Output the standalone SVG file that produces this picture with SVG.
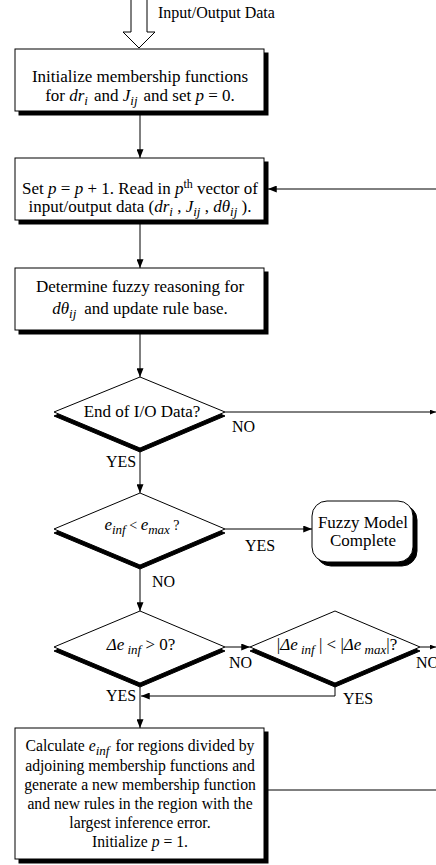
<svg xmlns="http://www.w3.org/2000/svg" width="436" height="865" viewBox="0 0 436 865">
<defs>
<style>
text{font-family:"Liberation Serif","Times New Roman",serif;font-size:17px;fill:#000}
.lbl{font-size:16px}
.sm{font-size:15.7px}
.c{text-anchor:middle}
.i{font-style:italic}
.sub{font-size:13px;font-style:italic}
.sup{font-size:12px}
.box{fill:#fff;stroke:#000;stroke-width:1}
.sh{fill:#000;stroke:#000;stroke-width:1}
.ln{fill:none;stroke:#000;stroke-width:1}
</style>
<marker id="ah" viewBox="0 0 10 8" refX="10" refY="4" markerWidth="9" markerHeight="7" markerUnits="userSpaceOnUse" orient="auto">
<path d="M0,0 L10,4 L0,8 Z" fill="#000"/>
</marker>
<marker id="ahs" viewBox="0 0 10 8" refX="10" refY="4" markerWidth="6" markerHeight="5" markerUnits="userSpaceOnUse" orient="auto">
<path d="M0,0 L10,4 L0,8 Z" fill="#000"/>
</marker>
</defs>
<rect width="436" height="865" fill="#fff"/>

<g id="input">
<path d="M131,0 V32 H123 L139,48 L155,32 H147 V0" fill="#fff" stroke="#000" stroke-width="1"/>
<text x="158" y="18" class="lbl">Input/Output Data</text>
</g>

<g id="connectors">
<line class="ln" x1="140" y1="115" x2="140" y2="158" marker-end="url(#ah)"/>
<line class="ln" x1="436" y1="189" x2="268" y2="189" marker-end="url(#ah)"/>
<line class="ln" x1="140" y1="224" x2="140" y2="268" marker-end="url(#ah)"/>
<line class="ln" x1="140" y1="334" x2="140" y2="377" marker-end="url(#ah)"/>
<line class="ln" x1="225" y1="412" x2="436" y2="412" marker-end="url(#ahs)"/>
<line class="ln" x1="140" y1="451" x2="140" y2="493" marker-end="url(#ah)"/>
<line class="ln" x1="225" y1="529" x2="312" y2="529" marker-end="url(#ah)"/>
<line class="ln" x1="140" y1="569" x2="140" y2="611" marker-end="url(#ah)"/>
<line class="ln" x1="225" y1="647" x2="250" y2="647" marker-end="url(#ah)"/>
<line class="ln" x1="420" y1="647" x2="436" y2="647" marker-end="url(#ahs)"/>
<polyline class="ln" points="335,686 335,696 141,696" marker-end="url(#ah)"/>
<line class="ln" x1="140" y1="687" x2="140" y2="728" marker-end="url(#ah)"/>
<line class="ln" x1="268" y1="790" x2="436" y2="790"/>
</g>

<g id="init">
<rect class="sh" x="19" y="53" width="249" height="62"/>
<rect class="box" x="15" y="49" width="249" height="62"/>
<text class="c" x="140" y="82">Initialize membership functions</text>
<text class="c" x="140" y="101">for <tspan class="i">dr</tspan><tspan class="sub" dy="4">i</tspan><tspan dy="-4" dx="6">and </tspan><tspan class="i">J</tspan><tspan class="sub" dy="4">ij</tspan><tspan dy="-4" dx="6">and set </tspan><tspan class="i">p</tspan> = 0.</text>
</g>

<g id="read">
<rect class="sh" x="19" y="162" width="249" height="62"/>
<rect class="box" x="15" y="158" width="249" height="62"/>
<text class="c" x="140" y="194">Set <tspan class="i">p</tspan> = <tspan class="i">p</tspan> + 1. Read in <tspan class="i">p</tspan><tspan class="sup" dy="-6">th</tspan><tspan dy="6"> vector of</tspan></text>
<text class="c" x="140" y="212">input/output data (<tspan class="i">dr</tspan><tspan class="sub" dy="4">i</tspan><tspan dy="-4"> , </tspan><tspan class="i">J</tspan><tspan class="sub" dy="4">ij</tspan><tspan dy="-4"> , </tspan><tspan class="i">dθ</tspan><tspan class="sub" dy="4">ij</tspan><tspan dy="-4"> ).</tspan></text>
</g>

<g id="reason">
<rect class="sh" x="19" y="272" width="249" height="62"/>
<rect class="box" x="15" y="268" width="249" height="62"/>
<text class="c" x="140" y="292">Determine fuzzy reasoning for</text>
<text class="c" x="140" y="314"><tspan class="i">dθ</tspan><tspan class="sub" dy="4">ij</tspan><tspan dy="-4" dx="8">and update rule base.</tspan></text>
</g>

<g id="end-data">
<polygon class="sh" points="140,381 225,416 140,452 54,416"/>
<polygon class="box" points="140,377 225,412 140,448 54,412"/>
<text class="c" x="142" y="417">End of I/O Data?</text>
<text class="lbl" x="232" y="432">NO</text>
<text class="lbl" x="106" y="467">YES</text>
</g>

<g id="err-check">
<polygon class="sh" points="140,497 225,533 140,569 54,533"/>
<polygon class="box" points="140,493 225,529 140,565 54,529"/>
<text class="c" x="142" y="530"><tspan class="i">e</tspan><tspan class="sub" dy="4">inf</tspan><tspan dy="-4" font-size="14"> &lt; </tspan><tspan class="i">e</tspan><tspan class="sub" dy="4">max</tspan><tspan dy="-4" font-size="14"> ?</tspan></text>
<text class="lbl" x="245" y="551">YES</text>
<text class="lbl" x="152" y="587">NO</text>
</g>

<g id="complete">
<rect class="sh" x="316" y="505" width="101" height="61" rx="15"/>
<rect class="box" x="312" y="501" width="101" height="61" rx="15"/>
<text class="c" x="363" y="528">Fuzzy Model</text>
<text class="c" x="363" y="546">Complete</text>
</g>

<g id="delta-check">
<polygon class="sh" points="140,615 225,651 140,687 54,651"/>
<polygon class="box" points="140,611 225,647 140,683 54,647"/>
<text class="c" x="141" y="650"><tspan class="i">Δe</tspan><tspan class="sub" dy="4"> inf</tspan><tspan dy="-4"> &gt; 0?</tspan></text>
<text class="lbl" x="229" y="668">NO</text>
<text class="lbl" x="106" y="701">YES</text>
</g>

<g id="abs-check">
<polygon class="sh" points="335,615 420,651 335,687 250,651"/>
<polygon class="box" points="335,611 420,647 335,683 250,647"/>
<text class="c" x="337" y="650">|<tspan class="i">Δe</tspan><tspan class="sub" dy="4"> inf</tspan><tspan dy="-4"> | &lt; |</tspan><tspan class="i">Δe</tspan><tspan class="sub" dy="4"> max</tspan><tspan dy="-4">|?</tspan></text>
<text class="lbl" x="416" y="668">NO</text>
<text class="lbl" x="343" y="704">YES</text>
</g>

<g id="refine">
<rect class="sh" x="19" y="732" width="249" height="131"/>
<rect class="box" x="15" y="728" width="249" height="131"/>
<text class="c sm" x="140" y="751">Calculate <tspan class="i">e</tspan><tspan class="sub" dy="4">inf</tspan><tspan dy="-4" dx="6">for regions divided by</tspan></text>
<text class="c sm" x="140" y="771">adjoining membership functions and</text>
<text class="c sm" x="140" y="790">generate a new membership function</text>
<text class="c sm" x="140" y="809">and new rules in the region with the</text>
<text class="c sm" x="140" y="828">largest inference error.</text>
<text class="c sm" x="140" y="847">Initialize <tspan class="i">p</tspan> = 1.</text>
</g>
</svg>
